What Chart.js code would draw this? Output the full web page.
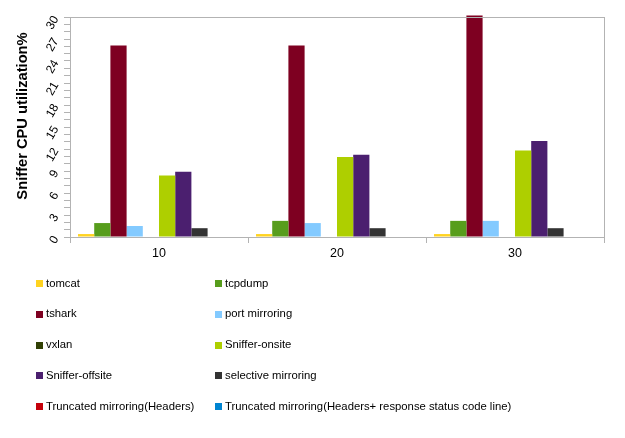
<!DOCTYPE html>
<html>
<head>
<meta charset="utf-8">
<script src="https://cdn.jsdelivr.net/npm/chart.js@4/dist/chart.umd.min.js"></script>
<style>
  html, body { margin: 0; padding: 0; background: #fff; }
  #wrap { width: 625px; height: 438px; }
</style>
</head>
<body>
<div id="wrap"><canvas id="chart" width="625" height="438"></canvas></div>
<script>
// values
const categories = ['10', '20', '30'];
const seriesNames = [
  'tomcat', 'tcpdump', 'tshark', 'port mirroring', 'vxlan',
  'Sniffer-onsite', 'Sniffer-offsite', 'selective mirroring',
  'Truncated mirroring(Headers)', 'Truncated mirroring(Headers+ response status code line)'
];
const tomcat = [0.4, 0.4, 0.4];
const tcpdump = [1.9, 2.2, 2.2];
const tshark = [26.1, 26.1, 30.2];
const portMirroring = [1.5, 1.9, 2.2];
const vxlan = [0, 0, 0];
const snifferOnsite = [8.4, 10.9, 11.8];
const snifferOffsite = [8.9, 11.2, 13.1];
const selectiveMirroring = [1.2, 1.2, 1.2];
const truncHeaders = [0, 0, 0];
const truncStatus = [0, 0, 0];
const colors = ['#ffd320', '#579d1c', '#7e0021', '#83caff', '#314004',
  '#aecf00', '#4b1f6f', '#333333', '#c5000b', '#0084d1'];
const yTitle = 'Sniffer CPU utilization%';

const values = [tomcat, tcpdump, tshark, portMirroring, vxlan,
  snifferOnsite, snifferOffsite, selectiveMirroring, truncHeaders, truncStatus];

const FONT = "'Liberation Sans', Arial, sans-serif";
const AXIS = '#b3b3b3';

// grey box round the plot area + the y title
const frame = {
  id: 'frame',
  afterDraw(chart) {
    const {ctx, chartArea: a} = chart;
    ctx.save();
    ctx.strokeStyle = AXIS;
    ctx.lineWidth = 1;
    ctx.strokeRect(Math.round(a.left) + 0.5, Math.round(a.top) + 0.5,
      Math.round(a.right - a.left), Math.round(a.bottom - a.top));
    ctx.translate(23, 116);
    ctx.rotate(-Math.PI / 2);
    ctx.font = 'bold 14.7px ' + FONT;
    ctx.fillStyle = '#000';
    ctx.textAlign = 'center';
    ctx.textBaseline = 'middle';
    ctx.fillText(yTitle, 0, 0);
    ctx.restore();
  }
};

// two-column legend under the chart
const gridLegend = {
  id: 'gridLegend',
  afterDraw(chart) {
    const ctx = chart.ctx;
    ctx.save();
    ctx.font = '11.3px ' + FONT;
    ctx.textBaseline = 'middle';
    chart.data.datasets.forEach((ds, i) => {
      const col = i % 2, row = Math.floor(i / 2);
      const x = col === 0 ? 36 : 215;
      const y = 283.5 + row * 30.8;
      ctx.fillStyle = ds.backgroundColor;
      ctx.fillRect(x, Math.round(y - 3.5), 7, 7);
      ctx.fillStyle = '#000';
      ctx.fillText(ds.label, x + 10, y);
    });
    ctx.restore();
  }
};

new Chart(document.getElementById('chart'), {
  type: 'bar',
  data: {
    labels: categories,
    datasets: seriesNames.map((name, i) => ({
      label: name,
      data: values[i],
      backgroundColor: colors[i],
      borderWidth: 0,
      categoryPercentage: 0.91,
      barPercentage: 1,
      clip: false
    }))
  },
  options: {
    responsive: false,
    animation: false,
    layout: { padding: { top: 17, right: 21, bottom: 171, left: 0 } },
    plugins: {
      legend: { display: false },
      tooltip: { enabled: false }
    },
    scales: {
      x: {
        grid: { offset: true, drawOnChartArea: false, tickLength: 6, color: AXIS },
        border: { color: AXIS },
        ticks: { color: '#000', font: { family: FONT, size: 12.5 }, padding: 3 },
        afterFit(s) { s.height = 30; }
      },
      y: {
        min: 0,
        max: 30,
        grid: { drawOnChartArea: false, tickLength: 6, color: AXIS },
        border: { color: AXIS },
        ticks: {
          stepSize: 1,
          autoSkip: false,
          minRotation: 60,
          maxRotation: 60,
          padding: 8,
          color: '#000',
          font: { family: FONT, size: 12 },
          callback: v => (v % 3 === 0 ? v : '')
        },
        afterFit(s) {
          s.width = 70;
          s.paddingTop = 0;
          s.paddingBottom = 0;
        }
      }
    }
  },
  plugins: [frame, gridLegend]
});
</script>
</body>
</html>
